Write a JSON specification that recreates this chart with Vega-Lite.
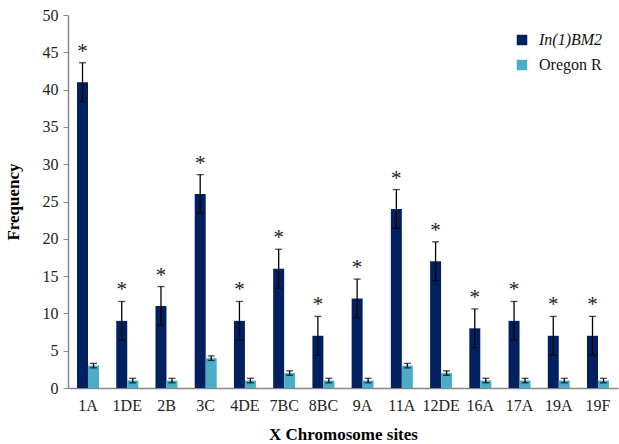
{
  "$schema": "https://vega.github.io/schema/vega-lite/v6.json",
  "width": 550,
  "height": 373,
  "autosize": "none",
  "padding": {"left": 68, "top": 15, "right": 1, "bottom": 56},
  "background": "white",
  "config": {
    "view": {"stroke": null},
    "font": "Liberation Serif",
    "axisY": {
      "tickCount": 10,
      "labelOverlap": false,
      "labelFont": "Liberation Serif",
      "labelFontSize": 16,
      "labelColor": "#222",
      "labelPadding": 5,
      "grid": false,
      "tickColor": "#888",
      "tickSize": 5,
      "domainColor": "#888",
      "domainWidth": 1.5,
      "titleFont": "Liberation Serif",
      "titleFontSize": 17,
      "titleFontWeight": "bold",
      "titleColor": "black",
      "titlePadding": 20
    }
  },
  "data": {
    "values": [
      {"site": "1A", "group": "In(1)BM2", "value": 41, "err": 2.6},
      {"site": "1DE", "group": "In(1)BM2", "value": 9, "err": 2.6},
      {"site": "2B", "group": "In(1)BM2", "value": 11, "err": 2.6},
      {"site": "3C", "group": "In(1)BM2", "value": 26, "err": 2.6},
      {"site": "4DE", "group": "In(1)BM2", "value": 9, "err": 2.6},
      {"site": "7BC", "group": "In(1)BM2", "value": 16, "err": 2.6},
      {"site": "8BC", "group": "In(1)BM2", "value": 7, "err": 2.6},
      {"site": "9A", "group": "In(1)BM2", "value": 12, "err": 2.6},
      {"site": "11A", "group": "In(1)BM2", "value": 24, "err": 2.6},
      {"site": "12DE", "group": "In(1)BM2", "value": 17, "err": 2.6},
      {"site": "16A", "group": "In(1)BM2", "value": 8, "err": 2.6},
      {"site": "17A", "group": "In(1)BM2", "value": 9, "err": 2.6},
      {"site": "19A", "group": "In(1)BM2", "value": 7, "err": 2.6},
      {"site": "19F", "group": "In(1)BM2", "value": 7, "err": 2.6},
      {"site": "1A", "group": "Oregon R", "value": 3, "err": 0.3},
      {"site": "1DE", "group": "Oregon R", "value": 1, "err": 0.3},
      {"site": "2B", "group": "Oregon R", "value": 1, "err": 0.3},
      {"site": "3C", "group": "Oregon R", "value": 4, "err": 0.3},
      {"site": "4DE", "group": "Oregon R", "value": 1, "err": 0.3},
      {"site": "7BC", "group": "Oregon R", "value": 2, "err": 0.3},
      {"site": "8BC", "group": "Oregon R", "value": 1, "err": 0.3},
      {"site": "9A", "group": "Oregon R", "value": 1, "err": 0.3},
      {"site": "11A", "group": "Oregon R", "value": 3, "err": 0.3},
      {"site": "12DE", "group": "Oregon R", "value": 2, "err": 0.3},
      {"site": "16A", "group": "Oregon R", "value": 1, "err": 0.3},
      {"site": "17A", "group": "Oregon R", "value": 1, "err": 0.3},
      {"site": "19A", "group": "Oregon R", "value": 1, "err": 0.3},
      {"site": "19F", "group": "Oregon R", "value": 1, "err": 0.3}
    ]
  },
  "transform": [
    {"calculate": "datum.value - datum.err", "as": "lo"},
    {"calculate": "datum.value + datum.err", "as": "hi"}
  ],
  "encoding": {
    "x": {
      "field": "site",
      "type": "nominal",
      "sort": null,
      "scale": {"paddingInner": 0.44, "paddingOuter": 0.23},
      "axis": {
        "title": "X Chromosome sites",
        "titleFont": "Liberation Serif",
        "titleFontSize": 17,
        "titleFontWeight": "bold",
        "titleColor": "black",
        "titlePadding": 13,
        "labelFont": "Liberation Serif",
        "labelFontSize": 16,
        "labelColor": "#222",
        "labelAngle": 0,
        "labelPadding": 9,
        "ticks": false,
        "domainColor": "#888",
        "domainWidth": 1.5
      }
    },
    "xOffset": {"field": "group", "type": "nominal", "scale": {"paddingInner": 0}}
  },
  "layer": [
    {
      "mark": {"type": "bar"},
      "encoding": {
        "y": {
          "field": "value",
          "type": "quantitative",
          "scale": {"domain": [0, 50]},
          "title": "Frequency"
        },
        "color": {
          "field": "group",
          "type": "nominal",
          "scale": {"domain": ["In(1)BM2", "Oregon R"], "range": ["#002060", "#4BACC6"]},
          "legend": {
            "title": null,
            "orient": "none",
            "legendX": 446,
            "legendY": 17,
            "symbolType": "square",
            "symbolSize": 110,
            "symbolStrokeWidth": 0,
            "labelFont": "Liberation Serif",
            "labelFontSize": 16,
            "labelOffset": 9,
            "labelColor": "#111",
            "rowPadding": 9,
            "encode": {
              "labels": {
                "update": {
                  "fontStyle": {"signal": "datum.label == 'In(1)BM2' ? 'italic' : 'normal'"}
                }
              }
            }
          }
        }
      }
    },
    {
      "mark": {"type": "rule", "color": "black", "strokeWidth": 1.3},
      "encoding": {
        "y": {"field": "lo", "type": "quantitative"},
        "y2": {"field": "hi"}
      }
    },
    {
      "mark": {"type": "tick", "color": "black", "size": 7, "thickness": 1.3, "orient": "horizontal"},
      "encoding": {"y": {"field": "lo", "type": "quantitative"}}
    },
    {
      "mark": {"type": "tick", "color": "black", "size": 7, "thickness": 1.3, "orient": "horizontal"},
      "encoding": {"y": {"field": "hi", "type": "quantitative"}}
    },
    {
      "transform": [{"filter": "datum.group == 'In(1)BM2'"}],
      "mark": {"type": "text", "text": "*", "font": "Liberation Serif", "fontSize": 21, "color": "#222", "baseline": "alphabetic", "dy": -5},
      "encoding": {"y": {"field": "hi", "type": "quantitative"}}
    }
  ]
}
